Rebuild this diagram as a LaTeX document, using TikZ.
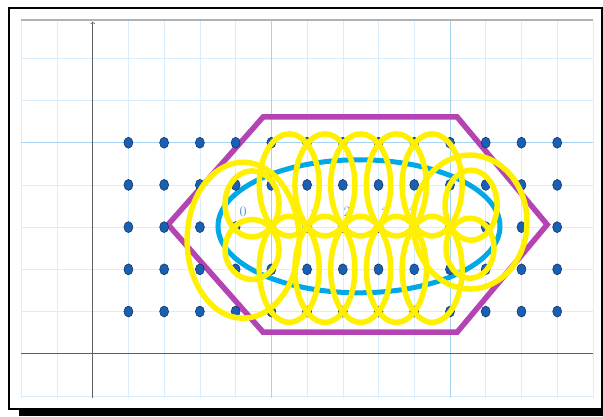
\documentclass[tikz,border=0pt]{standalone}
\usepackage{xcolor}
\definecolor{gridminor}{RGB}{218,237,252}
\definecolor{gridmajor}{RGB}{165,212,245}
\definecolor{axisgray}{RGB}{95,95,95}
\definecolor{hexpurple}{RGB}{180,68,180}
\definecolor{ringblue}{RGB}{0,168,232}
\definecolor{ringyellow}{RGB}{255,240,0}
\definecolor{dotblue}{RGB}{25,95,180}
\definecolor{dotedge}{RGB}{15,45,90}
\definecolor{labelblue}{RGB}{80,140,215}
\begin{document}
\begin{tikzpicture}[x=35.73bp,y=42.2bp,
  minor/.style={draw=gridminor,line width=0.6bp},
  major/.style={draw=gridmajor,line width=0.8bp},
  axisline/.style={draw=axisgray,line width=0.7bp},
  hexline/.style={draw=hexpurple,line width=5.5bp,line join=miter},
  blueline/.style={draw=ringblue,line width=5bp},
  ylw/.style={draw=ringyellow,line width=5.5bp},
  gdot/.style={fill=dotblue,draw=dotedge,line width=0.5bp},
  numlabel/.style={text=labelblue,font=\Large,inner sep=0pt}]
\useasboundingbox (-2.594,-1.476) rectangle (14.282,8.382);

% frame and shadow
\fill[white] (-2.594,-1.476) rectangle (14.282,8.382);
\draw[line width=1.5bp] (-2.342,-1.31) rectangle (14.254,8.192);
\fill[black] (-2.063,-1.34) rectangle (14.282,-1.476);

% grid
\foreach \x in {-2,-1,1,2,3,4,6,7,8,9,11,12,13,14}
  \draw[minor] (\x,-1.043) -- (\x,7.908);
\foreach \y in {-1,1,2,3,4,6,7}
  \draw[minor] (-2,\y) -- (14,\y);
\foreach \x in {5,10}
  \draw[major] (\x,-1.043) -- (\x,7.908);
\draw[major] (-2,5) -- (14,5);
\draw[draw=black!30,line width=1.5bp] (-2,7.908) -- (14,7.908);

% axes
\draw[axisline] (-2,0) -- (14,0);
\draw[axisline,->] (0,-1.043) -- (0,7.87);

% hexagon and blue ring
\draw[hexline] (4.77,5.61) -- (10.2,5.61) -- (12.72,3.06) -- (10.2,0.51)
  -- (4.77,0.51) -- (2.11,3.06) -- cycle;
\draw[blueline] (7.453,3.02) ellipse [x radius=141bp,y radius=66.5bp];

% lattice points
\foreach \i in {1,...,13}
  \foreach \j in {1,...,5}
    \draw[gdot] (\i,\j) ellipse [x radius=4.5bp,y radius=5.5bp];

% number labels
\node[numlabel] (n0) at (4.21,3.36) {0};
\node[numlabel] (n1) at (6.17,3.29) {1};
\node[numlabel] (n2) at (7.12,3.36) {2};
\node[numlabel] (n3) at (8.18,3.33) {3};
\node[numlabel] (n4) at (8.96,3.45) {4};

% yellow rings
\foreach \x in {5.5,6.5,7.5,8.5,9.5} {
  \draw[ylw] (\x,4) ellipse [x radius=30bp,y radius=51bp];
  \draw[ylw] (\x,2) ellipse [x radius=30bp,y radius=53bp];
}
\draw[ylw] (4.46,3.55) ellipse [x radius=27bp,y radius=33bp];
\draw[ylw] (4.46,2.47) ellipse [x radius=27bp,y radius=30bp];
\draw[ylw] (4.21,2.69) ellipse [x radius=56bp,y radius=78bp];
\draw[ylw] (10.59,3.52) ellipse [x radius=26bp,y radius=35bp];
\draw[ylw] (10.56,2.50) ellipse [x radius=24bp,y radius=30bp];
\draw[ylw] (10.56,3.12) ellipse [x radius=57bp,y radius=67bp];
\end{tikzpicture}
\end{document}
